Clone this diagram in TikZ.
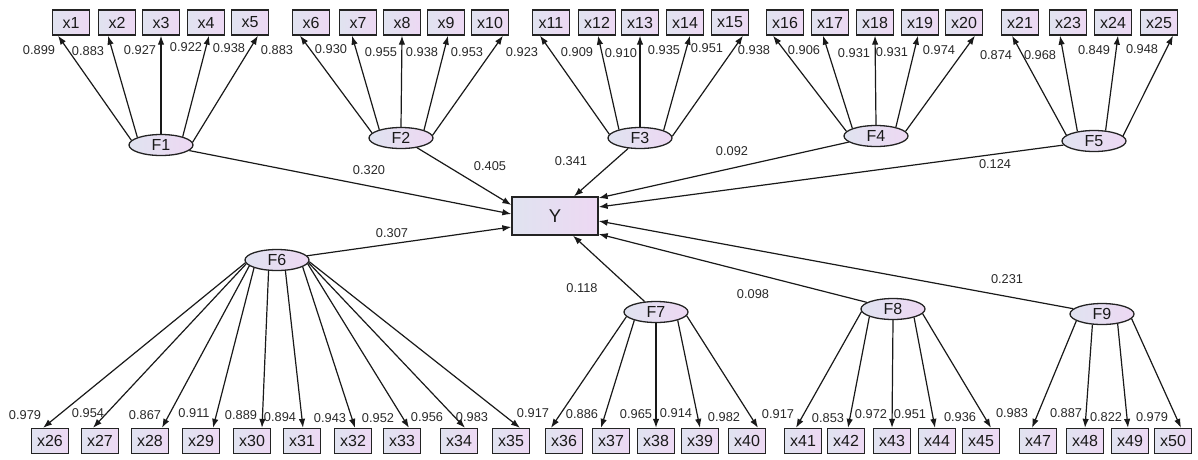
\documentclass[tikz,border=0pt]{standalone}
\usepackage{fontspec}
\setmainfont{Liberation Sans}
\usetikzlibrary{arrows.meta,shapes.geometric}
\definecolor{fillL}{RGB}{224,227,240}
\definecolor{fillR}{RGB}{237,216,243}
\definecolor{edgec}{RGB}{35,35,35}
\definecolor{lblc}{RGB}{40,40,40}
\begin{document}
\begin{tikzpicture}[x=1pt,y=-1pt,
  obs/.style={draw=edgec, line width=1.3pt, left color=fillL, right color=fillR,
    minimum width=37pt, minimum height=25pt, inner sep=0pt,
    font=\fontsize{16}{16}\selectfont, text=black!90},
  lat/.style={ellipse, draw=edgec, line width=1.3pt, left color=fillL, right color=fillR,
    minimum width=64pt, minimum height=21pt, inner sep=0pt,
    font=\fontsize{16}{16}\selectfont, text=black!90},
  dep/.style={draw=edgec, line width=1.3pt, left color=fillL, right color=fillR,
    minimum width=86pt, minimum height=38pt, inner sep=0pt,
    font=\fontsize{18.5}{19}\selectfont, text=black!90},
  ld/.style={font=\fontsize{12.8}{13}\selectfont, text=lblc, inner sep=0pt},
  arr/.style={line width=1.2pt, draw=black!90, -{Latex[length=9pt,width=6.5pt]}},
]
\useasboundingbox (0,0) rectangle (1198,459);

% observed variables, top row
\foreach \n/\x in {1/71,2/117,3/161,4/206,5/250,6/311,7/358,8/402,9/446,10/490,
  11/551,12/597,13/640,14/685,15/730,16/785,17/830,18/875,19/920,20/964,
  21/1020,23/1068,24/1113,25/1159}
  \node[obs] (x\n) at (\x,22.5) {x\n};

% observed variables, bottom row
\foreach \n/\x in {26/50,27/100,28/150,29/201,30/252,31/302,32/353,33/402,34/459,35/511,
  36/564,37/611,38/656,39/700,40/747,41/803,42/846,43/892,44/937,45/981,
  47/1038,48/1085,49/1130,50/1173}
  \node[obs] (x\n) at (\x,441) {x\n};

% latent factors
\node[lat] (F1) at (161,145) {F1};
\node[lat] (F2) at (401,138) {F2};
\node[lat] (F3) at (640,138) {F3};
\node[lat] (F4) at (876,136) {F4};
\node[lat] (F5) at (1094,141) {F5};
\node[lat] (F6) at (277,260) {F6};
\node[lat] (F7) at (656,312) {F7};
\node[lat] (F8) at (893,309) {F8};
\node[lat] (F9) at (1102,314) {F9};

% dependent variable
\node[dep] (Y) at (555,216) {Y};

% loadings, top row
\foreach \f/\n/\a/\s in {1/1/171/-13,1/2/162/-9,1/3/90/0,1/4/21/3,1/5/5/8,
  2/6/170/-11,2/7/159/-6,2/8/90/0,2/9/19/2,2/10/5/13,
  3/11/173/-11,3/12/158/1,3/13/90/0,3/14/18/5,3/15/3/13,
  4/16/171/-12,4/17/162/-7,4/18/90/0,4/19/24/-2,4/20/9/11,
  5/21/168/-8,5/23/150/-8,5/24/42/5,5/25/10/14}
  \draw[arr] (F\f.\a) -- ([xshift=\s pt]x\n.south);

% loadings, bottom row
\foreach \f/\n/\a/\s in {6/26/-175/-7,6/27/-173/-7,6/28/-168/12,6/29/-161/12,6/30/-128/10,
  6/31/-52/1,6/32/-15/2,6/33/-7/7,6/34/-5/6,6/35/-3/9,
  7/36/-171/-13,7/37/-159/-10,7/38/-90/0,7/39/-21/0,7/40/-7/11,
  8/41/-175/-7,8/42/-162/2,8/43/-90/0,8/44/-22/-2,8/45/-9/10,
  9/47/-165/-6,9/48/-132/0,9/49/-32/-2,9/50/-9/8}
  \draw[arr] (F\f.\a) -- ([xshift=\s pt]x\n.north);

% structural paths
\draw[arr] (F1) -- ([yshift=2pt]Y.west);
\draw[arr] (F2) -- ([yshift=11pt]Y.west);
\draw[arr] (F6) -- ([yshift=-11pt]Y.west);
\draw[arr] (F3) -- ([xshift=19pt]Y.north);
\draw[arr] (F7) -- ([xshift=18pt]Y.south);
\draw[arr] (F4) -- ([yshift=18pt]Y.east);
\draw[arr] (F5) -- ([yshift=9pt]Y.east);
\draw[arr] (F9) -- ([yshift=-5pt]Y.east);
\draw[arr] (F8) -- ([yshift=-18pt]Y.east);

% loading labels, top
\foreach \i/\x/\y/\t in {1/39/50/0.899,2/88/51/0.883,3/140/50/0.927,4/186/47/0.922,5/229/48/0.938,
  6/277/50/0.883,7/331/49/0.930,8/381/52/0.955,9/422/52/0.938,10/467/52/0.953,
  11/522/52/0.923,12/577/52/0.909,13/621/53/0.910,14/664/50/0.935,15/707/48/0.951,
  16/754/50/0.938,17/804/50/0.906,18/854/53/0.931,19/892/52/0.931,20/939/50/0.974,
  21/996/55/0.874,22/1040/55/0.968,23/1094/50/0.849,24/1142/49/0.948}
  \node[ld] (lt\i) at (\x,\y) {\t};

% loading labels, bottom
\foreach \i/\x/\y/\t in {1/25/415/0.979,2/88/413/0.954,3/145/415/0.867,4/194/413/0.911,5/241/415/0.889,
  6/280/417/0.894,7/330/418/0.943,8/378/418/0.952,9/427/417/0.956,10/472/417/0.983,
  11/533/413/0.917,12/582/414/0.886,13/636/414/0.965,14/676/413/0.914,15/724/417/0.982,
  16/778/414/0.917,17/828/418/0.853,18/871/414/0.972,19/910/414/0.951,20/960/417/0.936,
  21/1012/413/0.983,22/1066/413/0.887,23/1106/417/0.822,24/1152/417/0.979}
  \node[ld] (lb\i) at (\x,\y) {\t};

% path coefficient labels
\node[ld] (p1) at (369,170) {0.320};
\node[ld] (p2) at (490,166) {0.405};
\node[ld] (p3) at (571,161) {0.341};
\node[ld] (p6) at (392,233) {0.307};
\node[ld] (p4) at (732,151) {0.092};
\node[ld] (p5) at (995,164) {0.124};
\node[ld] (p7) at (582,288) {0.118};
\node[ld] (p8) at (753,294) {0.098};
\node[ld] (p9) at (1007,279) {0.231};
\end{tikzpicture}
\end{document}
